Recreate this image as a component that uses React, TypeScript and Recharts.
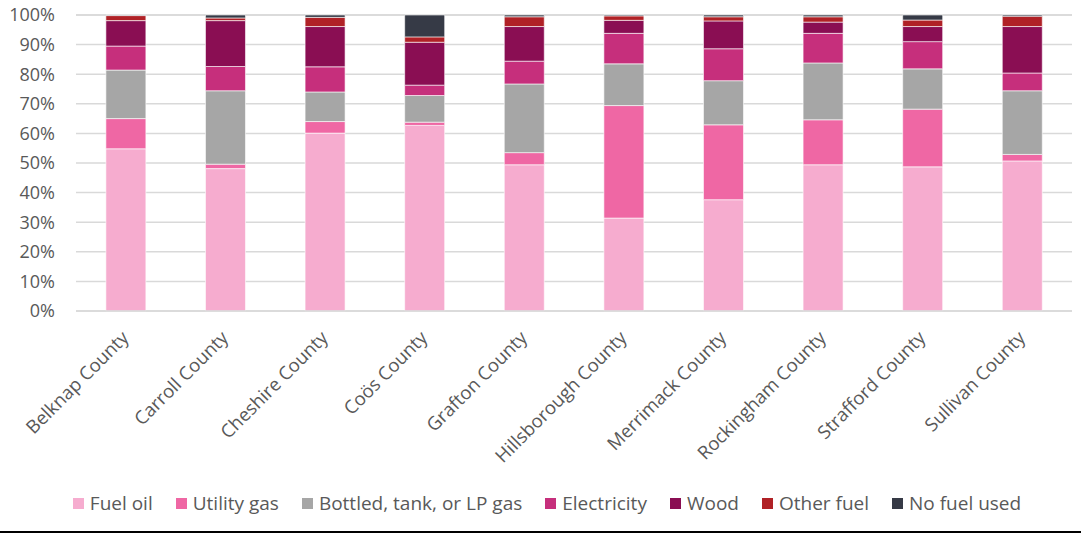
import React from 'react';
import { BarChart, Bar, XAxis, YAxis, CartesianGrid, Legend } from 'recharts';

const counties = ['Belknap County', 'Carroll County', 'Cheshire County', 'Coös County', 'Grafton County', 'Hillsborough County', 'Merrimack County', 'Rockingham County', 'Strafford County', 'Sullivan County'];
const fuelOil = [54.8, 48.1, 60.1, 62.7, 49.4, 31.4, 37.6, 49.4, 48.7, 50.7];
const utilityGas = [10.2, 1.5, 3.9, 1.1, 4.1, 38.0, 25.3, 15.2, 19.5, 2.2];
const bottledGas = [16.4, 24.8, 10.0, 9.0, 23.2, 14.1, 14.9, 19.2, 13.6, 21.5];
const electricity = [8.1, 8.2, 8.5, 3.5, 7.7, 10.3, 10.8, 10.0, 9.2, 6.0];
const wood = [8.6, 15.5, 13.6, 14.5, 11.7, 4.4, 9.4, 3.8, 5.1, 15.7];
const otherFuel = [1.7, 0.9, 3.1, 1.8, 3.3, 1.5, 1.4, 1.8, 2.2, 3.5];
const noFuel = [0.2, 1.0, 0.8, 7.4, 0.6, 0.3, 0.6, 0.6, 1.7, 0.4];
const yTicks = [0, 10, 20, 30, 40, 50, 60, 70, 80, 90, 100];

const series = [
  { key: 'fuelOil', name: 'Fuel oil', color: '#F6ACCF', values: fuelOil },
  { key: 'utilityGas', name: 'Utility gas', color: '#EF67A4', values: utilityGas },
  { key: 'bottledGas', name: 'Bottled, tank, or LP gas', color: '#A6A6A6', values: bottledGas },
  { key: 'electricity', name: 'Electricity', color: '#C62F7C', values: electricity },
  { key: 'wood', name: 'Wood', color: '#8A0E53', values: wood },
  { key: 'otherFuel', name: 'Other fuel', color: '#B02126', values: otherFuel },
  { key: 'noFuel', name: 'No fuel used', color: '#363A46', values: noFuel },
];

const data = counties.map((c, i) => {
  const row: Record<string, any> = { county: c };
  series.forEach((s) => { row[s.key] = s.values[i]; });
  return row;
});

const FONT = '"Open Sans", sans-serif';
const TEXT = '#595959';

const LegendContent = () => (
  <div style={{ display: 'flex', justifyContent: 'center', alignItems: 'center', fontFamily: FONT, fontSize: 19, color: TEXT, paddingLeft: 22, paddingTop: 14 }}>
    {series.map((s, i) => (
      <div key={s.key} style={{ display: 'flex', alignItems: 'center', marginRight: i === series.length - 1 ? 0 : 23 }}>
        <div style={{ width: 11, height: 11, background: s.color, marginRight: 6 }} />
        <span>{s.name}</span>
      </div>
    ))}
  </div>
);

const XTick = (props: any) => {
  const { x, y, payload } = props;
  const ax = x + 4;
  const ay = y + 20;
  return (
    <text x={ax} y={ay} textAnchor="end" fill={TEXT} fontSize={18.5} fontFamily={FONT} transform={`rotate(-45, ${ax}, ${ay})`}>
      {payload.value}
    </text>
  );
};

export default function App() {
  return (
    <div style={{ position: 'absolute', left: 0, top: 0, width: 1081, height: 533, background: '#fff' }}>
      <BarChart width={1081} height={533} data={data} margin={{ top: 15, right: 9, left: 0, bottom: 0 }} barCategoryGap="30%">
        <CartesianGrid vertical={false} stroke="#D9D9D9" strokeWidth={1.5} />
        <XAxis dataKey="county" interval={0} height={165} tick={<XTick />} tickLine={false} axisLine={{ stroke: '#D9D9D9', strokeWidth: 1.5 }} />
        <YAxis domain={[0, 100]} ticks={yTicks} width={76} tickFormatter={(v: number) => `${v}%`} tickLine={false} axisLine={false} tickMargin={15} tick={{ fill: TEXT, fontSize: 18, fontFamily: FONT }} />
        <Legend verticalAlign="bottom" height={57} content={<LegendContent />} />
        {series.map((s) => (
          <Bar key={s.key} dataKey={s.key} name={s.name} stackId="a" fill={s.color} stroke="#ffffff" strokeWidth={0.6} isAnimationActive={false} />
        ))}
      </BarChart>
      <div style={{ position: 'absolute', left: 0, top: 531, width: 1081, height: 2, background: '#000' }} />
    </div>
  );
}
